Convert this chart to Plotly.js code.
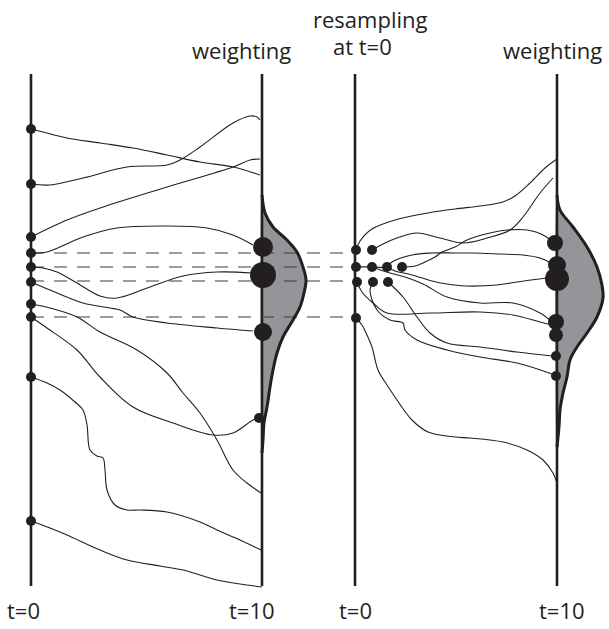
<!DOCTYPE html>
<html>
<head>
<meta charset="utf-8">
<script src="https://cdn.plot.ly/plotly-3.0.1.min.js"></script>
<style>html,body{margin:0;padding:0;background:#fff;}#chart{width:609px;height:629px;}</style>
</head>
<body>
<div id="chart"></div>
<script>
// ---- data (diagram coordinates) ----
const timeAxesX = [31, 262, 355, 557];
const timeAxisSpan = [74, 586];
const timeLabels = ["t=0", "t=10", "t=0", "t=10"];
const timeLabelX = [23, 252, 355, 562];

const leftStartY = [129, 184, 237, 253, 267, 282, 304, 317, 377, 521];

const leftPaths = [
  [[31,129],[43,132],[67,138],[100,143],[133,148],[167,155],[200,162],[233,167],[260,175]],
  [[31,184],[50,185],[83,178],[127,167],[167,165],[180,160],[200,147],[233,123],[250,116],[257,117],[260,120]],
  [[31,237],[67,220],[100,208],[167,187],[233,167],[250,160],[260,159]],
  [[31,253],[47,252],[83,237],[117,228],[167,226],[207,228],[233,235],[253,245]],
  [[31,267],[43,268],[57,272],[77,283],[100,296],[117,298],[150,287],[183,276],[217,272],[253,273]],
  [[31,282],[50,290],[83,303],[110,308],[120,310],[133,317],[167,323],[217,328],[253,331]],
  [[31,304],[50,308],[77,317],[100,332],[137,350],[167,373],[183,393],[200,413],[217,440],[233,470],[247,483],[261,493]],
  [[31,317],[47,328],[77,350],[100,377],[133,407],[173,423],[213,435],[233,433],[253,420],[259,418]],
  [[31,377],[47,383],[60,390],[75,402],[83,410],[87,425],[90,450],[97,456],[103,458],[105,470],[107,490],[115,505],[127,510],[140,510],[167,512],[200,522],[217,530],[240,540],[261,550]],
  [[31,521],[50,528],[67,535],[100,550],[127,560],[160,566],[183,570],[200,575],[217,580],[240,584],[262,587]]
];

const leftWeightDots = [[263,247],[263,275],[263,332],[259,418]];
const leftWeightSize = [20, 26, 18, 10];
const leftDensity = [[262,195],[265,213],[273,227],[287,240],[297,252],[303,267],[306,280],[304,293],[300,307],[293,320],[283,337],[277,353],[273,370],[270,387],[267,407],[264,423],[263,440],[262,453]];

const selectedY = [253, 267, 281, 317];
const dashedSpan = [31, 352];

const resampledDots = [[356,250],[372,250],[356,267],[372,267],[387,267],[402,267],[357,282],[373,282],[388,282],[356,318]];

const rightPaths = [
  [[356,250],[360,241],[372,229],[395,220],[428,213],[455,209],[480,206],[503,202],[515,196],[530,183],[545,168],[557,159]],
  [[372,250],[385,243],[397,238],[417,233],[440,238],[463,243],[487,238],[510,230],[523,217],[540,193],[553,178]],
  [[402,267],[415,266],[425,262],[435,257],[442,252],[455,247],[467,240],[490,233],[507,230],[527,230],[545,236],[553,243]],
  [[387,267],[392,262],[412,255],[432,253],[455,253],[473,253],[500,254],[523,255],[540,258],[553,264]],
  [[356,267],[372,267],[387,268],[395,271],[412,275],[432,281],[447,284],[465,286],[497,285],[517,282],[547,278]],
  [[372,267],[390,273],[405,277],[423,284],[447,297],[480,303],[513,303],[540,313],[552,322]],
  [[357,282],[362,292],[373,303],[387,313],[430,313],[480,312],[513,315],[540,322],[552,325]],
  [[373,282],[370,290],[377,310],[390,320],[403,323],[405,330],[417,340],[447,350],[480,357],[517,363],[552,374]],
  [[388,282],[403,297],[417,317],[430,333],[447,343],[480,347],[517,352],[552,356]],
  [[356,318],[362,325],[367,335],[372,347],[378,370],[387,385],[395,397],[412,420],[428,432],[455,437],[470,438],[503,442],[527,450],[543,460],[553,473],[557,483]]
];

const rightWeightDots = [[555,243],[557,265],[557,279],[556,322],[556,335],[556,356],[556,376]];
const rightWeightSize = [16, 18, 24, 16, 14, 10, 10];
const rightDensity = [[557,195],[560,210],[573,227],[587,247],[597,267],[602,285],[603,298],[597,317],[587,333],[577,347],[570,360],[567,377],[563,393],[560,410],[559,427],[557,447]];

const headerLabels = ["weighting", "resampling", "at t=0", "weighting"];
const headerX = [241, 370, 362, 552];
const headerY = [50, 19, 46, 50];

// ---- styles ----
const INK = '#231f20';
const GRAY = '#939598';
const FONT = 'Open Sans, sans-serif';

const traces = [];
const xs = p => p.map(v => v[0]);
const ys = p => p.map(v => v[1]);

// density fills
[leftDensity, rightDensity].forEach(d => {
  traces.push({x: xs(d).concat([d[0][0]]), y: ys(d).concat([d[0][1]]), mode: 'lines', fill: 'toself',
    fillcolor: GRAY, line: {width: 0, shape: 'spline', color: GRAY}, hoverinfo: 'skip', showlegend: false});
});

// time axes
timeAxesX.forEach(x => {
  traces.push({x: [x, x], y: timeAxisSpan, mode: 'lines', line: {color: INK, width: 2.6},
    hoverinfo: 'skip', showlegend: false});
});

// dashed guides
selectedY.forEach(y => {
  traces.push({x: dashedSpan, y: [y, y], mode: 'lines', line: {color: '#3a3a3a', width: 1.1, dash: '13px,10px'},
    hoverinfo: 'skip', showlegend: false});
});

// trajectories
leftPaths.concat(rightPaths).forEach(p => {
  traces.push({x: xs(p), y: ys(p), mode: 'lines', line: {color: INK, width: 1.1, shape: 'spline', smoothing: 1},
    hoverinfo: 'skip', showlegend: false});
});

// density outlines
[leftDensity, rightDensity].forEach(d => {
  traces.push({x: xs(d), y: ys(d), mode: 'lines', line: {color: INK, width: 3, shape: 'spline'},
    hoverinfo: 'skip', showlegend: false});
});

// particles
const dot = (pts, size) => ({x: xs(pts), y: ys(pts), mode: 'markers',
  marker: {color: INK, size: size, opacity: 1, line: {width: 0}}, hoverinfo: 'skip', showlegend: false});
traces.push(dot(leftStartY.map(y => [timeAxesX[0], y]), 10));
traces.push(dot(leftWeightDots, leftWeightSize));
traces.push(dot(resampledDots, 10));
traces.push(dot(rightWeightDots, rightWeightSize));

const annotations = [];
headerLabels.forEach((t, i) => annotations.push({x: headerX[i], y: headerY[i], xref: 'x', yref: 'y', text: t,
  showarrow: false, xanchor: 'center', yanchor: 'middle', font: {family: FONT, size: 22, color: INK}}));
timeLabels.forEach((t, i) => annotations.push({x: timeLabelX[i], y: 610, xref: 'x', yref: 'y', text: t,
  showarrow: false, xanchor: 'center', yanchor: 'middle', font: {family: FONT, size: 22, color: INK}}));

const layout = {
  width: 609, height: 629,
  margin: {l: 0, r: 0, t: 0, b: 0, pad: 0},
  paper_bgcolor: '#ffffff', plot_bgcolor: '#ffffff',
  xaxis: {range: [0, 609], visible: false, fixedrange: true},
  yaxis: {range: [629, 0], visible: false, fixedrange: true},
  showlegend: false,
  annotations: annotations
};

Plotly.newPlot('chart', traces, layout, {displayModeBar: false, staticPlot: true});
</script>
</body>
</html>
